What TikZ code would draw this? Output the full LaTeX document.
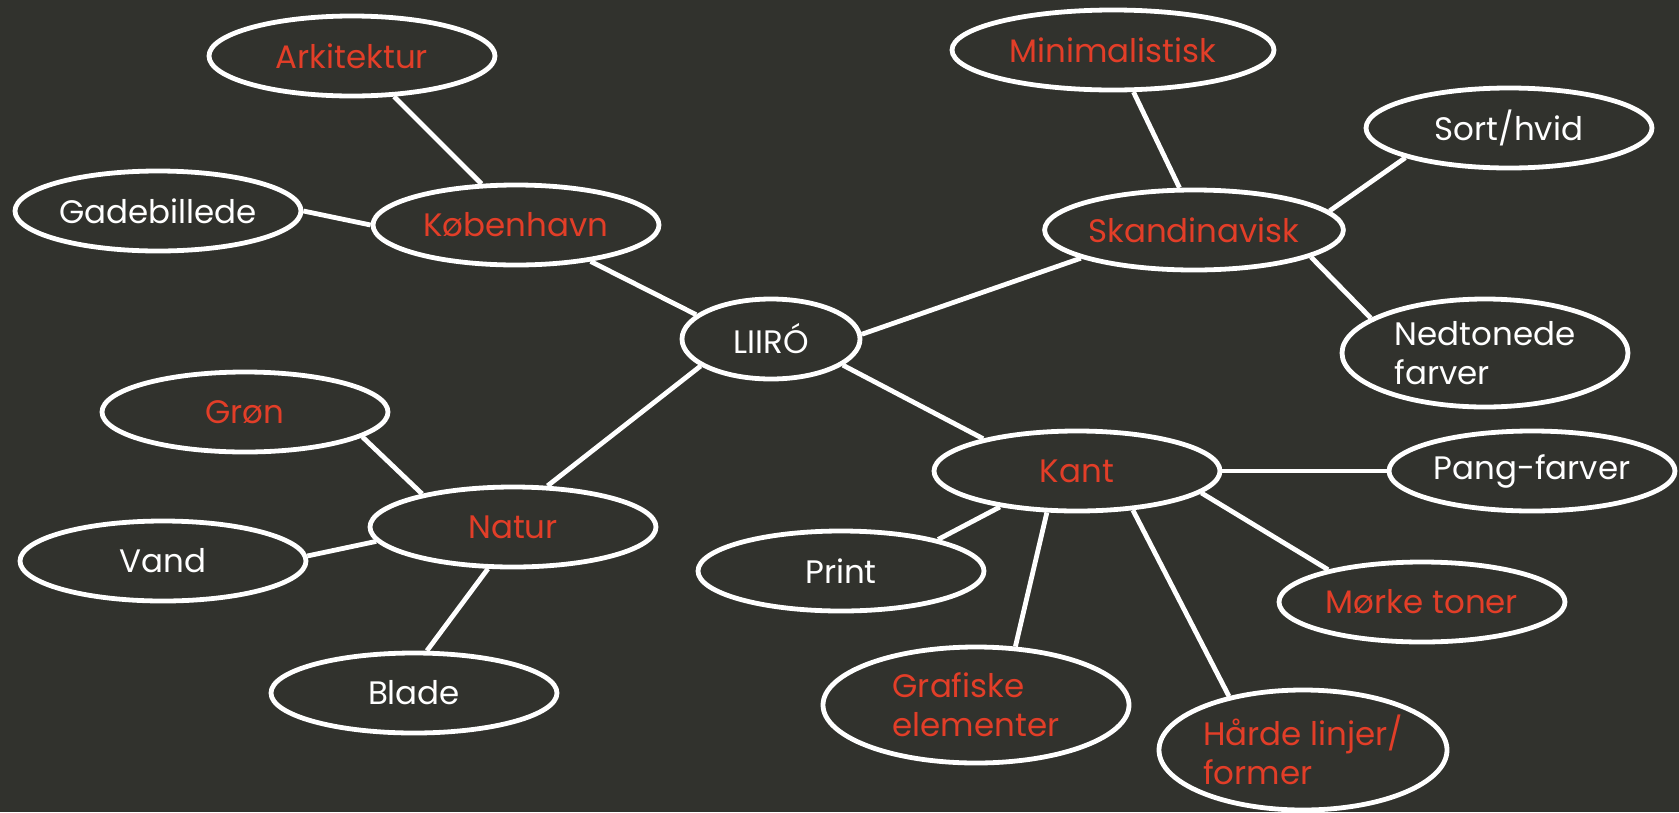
\documentclass[tikz,border=0pt]{standalone}
\usepackage{fontspec}
\setmainfont{Poppins}
\usepackage{tikz}
\usetikzlibrary{shapes.geometric}
\definecolor{bgdark}{RGB}{49,50,45}
\definecolor{redtext}{RGB}{226,62,40}

\begin{document}
\begin{tikzpicture}[x=1pt,y=-1pt,
  bubble/.style={draw=white,line width=4.8pt,ellipse,inner sep=0pt,
    minimum width=286pt,minimum height=80pt,align=left,
    font=\fontsize{32.5}{39}\selectfont,text=white},
  redbubble/.style={bubble,text=redtext},
  link/.style={draw=white,line width=4.8pt}]
% background
\fill[bgdark] (0,0) rectangle (1679,812);
\useasboundingbox (0,0) rectangle (1679,812);
% centre
\node[bubble,minimum width=178pt] (liiro) at (771,339) {LIIRÓ};
% left top branch
\node[redbubble] (kbh) at (516,225) {København};
\node[redbubble] (arkitektur) at (352,56) {Arkitektur};
\node[bubble] (gadebillede) at (158,211) {Gadebillede};
% right top branch
\node[redbubble] (skand) at (1194,230) {Skandinavisk};
\node[redbubble,minimum width=322pt] (minimal) at (1113,50) {Minimalistisk};
\node[bubble] (sorthvid) at (1509,128) {Sort/hvid};
\node[bubble,minimum height=108pt] (nedtonede) at (1485,353) {Nedtonede\\farver};
% right bottom branch
\node[redbubble] (kant) at (1077,471) {Kant};
\node[bubble] (pang) at (1532,471) {Pang-farver};
\node[redbubble] (moerke) at (1422,602) {Mørke toner};
\node[redbubble,minimum width=288pt,minimum height=120pt] (haarde) at (1303,750) {Hårde linjer/\\former};
\node[redbubble,minimum width=306pt,minimum height=116pt] (grafiske) at (976,705) {Grafiske\\elementer};
\node[bubble] (print) at (841,571) {Print};
% left bottom branch
\node[redbubble] (natur) at (513,527) {Natur};
\node[redbubble] (groen) at (245,412) {Grøn};
\node[bubble] (vand) at (163,561) {Vand};
\node[bubble] (blade) at (414,693) {Blade};
% connectors
\draw[link] (kbh.130) -- (arkitektur.316);
\draw[link] (kbh.west) -- (gadebillede.east);
\draw[link] (kbh.334) -- (liiro.162);
\draw[link] (liiro.3) -- (skand.194);
\draw[link] (skand.109) -- (minimal.296);
\draw[link] (skand.8) -- (sorthvid.196);
\draw[link] (skand.347) -- (nedtonede.163);
\draw[link] (liiro.340) -- (kant.161);
\draw[link] (liiro.201) -- (natur.50);
\draw[link] (kant.east) -- (pang.west);
\draw[link] (kant.350) -- (moerke.161);
\draw[link] (kant.325) -- (haarde.144);
\draw[link] (kant.234) -- (grafiske.56);
\draw[link] (kant.205) -- (print.18);
\draw[link] (natur.160) -- (groen.348);
\draw[link] (natur.186) -- (vand.2);
\draw[link] (natur.239) -- (blade.73);
\end{tikzpicture}
\end{document}
